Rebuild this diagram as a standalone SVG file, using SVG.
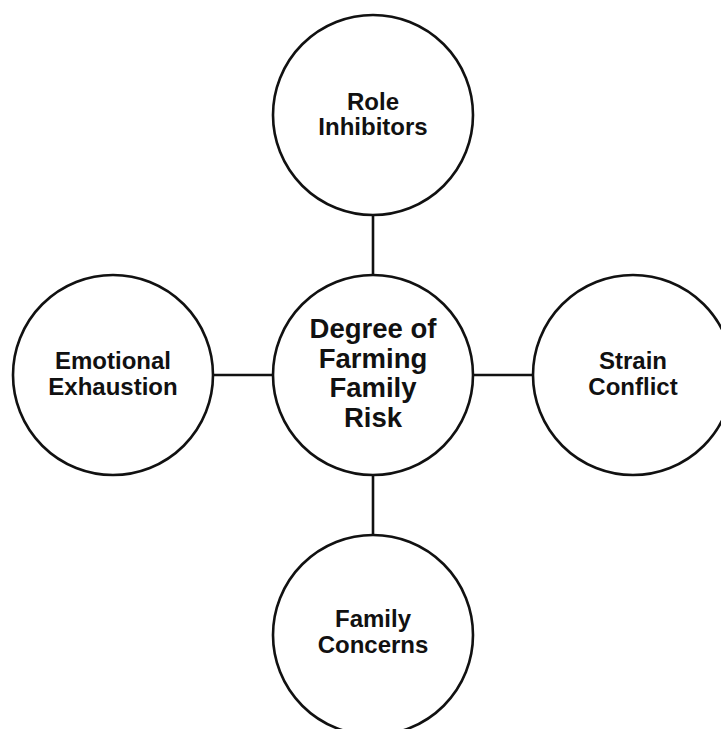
<svg xmlns="http://www.w3.org/2000/svg" width="721" height="729" viewBox="0 0 721 729">
  <style>
    .node circle { fill: #ffffff; stroke: #111111; stroke-width: 2.6; }
    .node text { font-family: "Liberation Sans", Arial, sans-serif; font-weight: bold; fill: #111111; text-anchor: middle; }
    .sat text { font-size: 24px; }
    .hub text { font-size: 27.5px; }
    .links line { stroke: #111111; stroke-width: 2.6; }
  </style>
  <rect width="721" height="729" fill="#ffffff"/>

  <!-- spokes between hub and satellites -->
  <g id="connectors" class="links">
    <line x1="373" y1="215" x2="373" y2="275"/>
    <line x1="213" y1="375" x2="273" y2="375"/>
    <line x1="473" y1="375" x2="533" y2="375"/>
    <line x1="373" y1="475" x2="373" y2="535"/>
  </g>

  <g id="hub" class="node hub">
    <circle cx="373" cy="375" r="100"/>
    <text x="373" y="338">Degree of</text>
    <text x="373" y="367.5">Farming</text>
    <text x="373" y="397">Family</text>
    <text x="373" y="426.5">Risk</text>
  </g>

  <g id="role-inhibitors" class="node sat">
    <circle cx="373" cy="115" r="100"/>
    <text x="373" y="110">Role</text>
    <text x="373" y="135">Inhibitors</text>
  </g>

  <g id="emotional-exhaustion" class="node sat">
    <circle cx="113" cy="375" r="100"/>
    <text x="113" y="369">Emotional</text>
    <text x="113" y="395">Exhaustion</text>
  </g>

  <g id="strain-conflict" class="node sat">
    <circle cx="633" cy="375" r="100"/>
    <text x="633" y="369">Strain</text>
    <text x="633" y="395">Conflict</text>
  </g>

  <g id="family-concerns" class="node sat">
    <circle cx="373" cy="635" r="100"/>
    <text x="373" y="627">Family</text>
    <text x="373" y="653">Concerns</text>
  </g>
</svg>
